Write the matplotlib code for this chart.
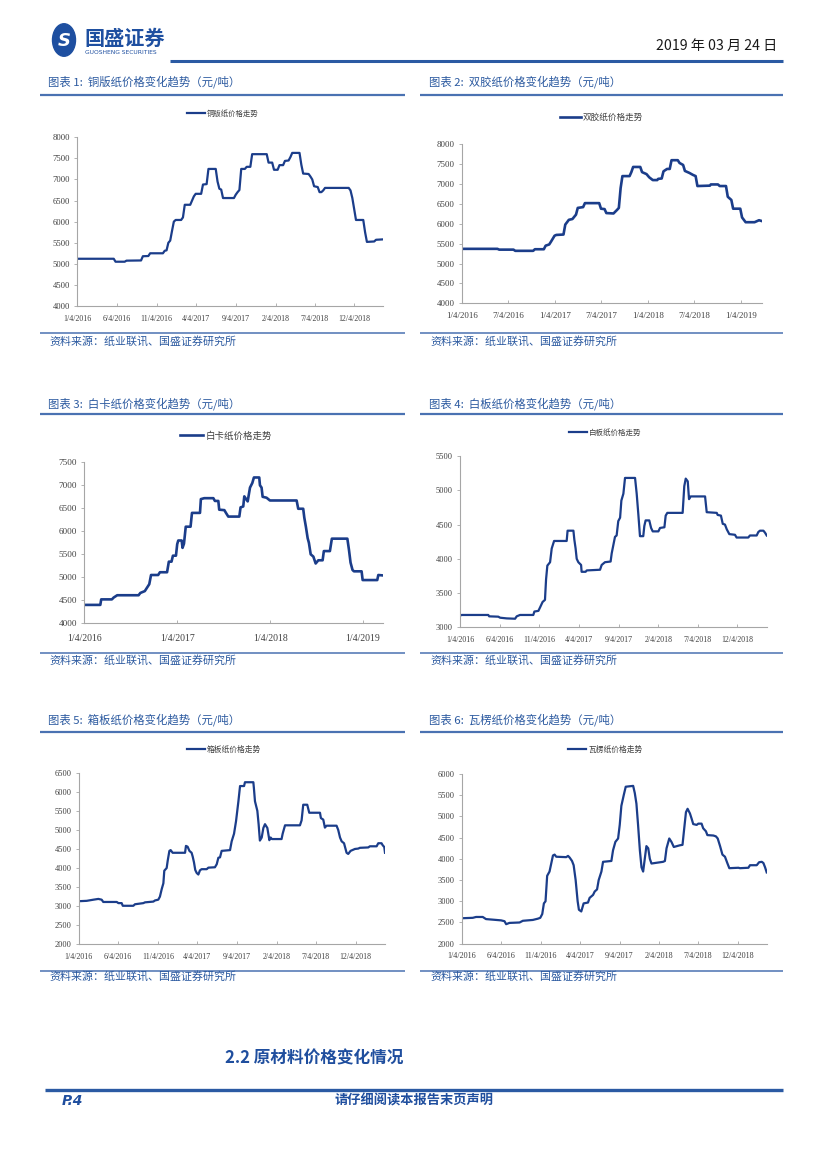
import matplotlib
matplotlib.use('Agg')
import matplotlib.pyplot as plt
from matplotlib.lines import Line2D
from matplotlib.patches import Circle
from matplotlib.ticker import MultipleLocator
import numpy as np
import pandas as pd

plt.rcParams['font.family'] = ['Noto Sans CJK SC', 'DejaVu Sans']

START = '2016-01-04'  # weekly series, x = weeks since start

# ---------------- data ----------------
c1_weeks = [0, 20, 21, 26, 27, 35, 36, 39, 40, 47, 48, 49, 50, 51, 52, 53, 54, 57, 58, 59, 62, 63, 64, 65, 68,
            69, 71, 72, 76, 77, 78, 79, 80, 86, 87, 88, 89, 90, 92, 93, 95, 96, 104, 105, 107, 108, 110, 111, 113,
            114, 116, 117, 118, 122, 123, 124, 127, 128, 129, 130, 132, 133, 134, 135, 136, 149, 150, 151, 152,
            153, 157, 158, 159, 163, 164, 168]
c1_vals = [5120, 5120, 5050, 5050, 5075, 5080, 5180, 5185, 5250, 5250, 5310, 5320, 5500, 5550, 5780, 6000, 6040,
           6040, 6100, 6400, 6400, 6500, 6600, 6660, 6660, 6880, 6890, 7250, 7250, 6950, 6780, 6760, 6560, 6560,
           6640, 6700, 6750, 7250, 7250, 7300, 7300, 7600, 7600, 7400, 7400, 7230, 7230, 7340, 7340, 7440, 7450,
           7530, 7630, 7630, 7350, 7140, 7130, 7070, 7000, 6840, 6820, 6700, 6700, 6740, 6800, 6800, 6740, 6560,
           6300, 6040, 6040, 5750, 5520, 5530, 5570, 5580]

c2_weeks = [0, 20, 21, 29, 30, 40, 41, 46, 47, 49, 50, 52, 53, 57, 58, 60, 62, 64, 65, 68, 69, 77, 78, 80, 81,
            85, 87, 88, 89, 90, 94, 95, 96, 100, 101, 103.5, 105, 107, 109.5, 110, 112, 113, 115, 116.5, 117.5,
            121, 122, 124, 125, 127.5, 129.5, 131, 132, 139, 139.5, 143.5, 144.5, 148, 149, 151, 152, 156, 157,
            159, 164, 165.5, 166.5, 168]
c2_vals = [5370, 5370, 5350, 5350, 5320, 5320, 5360, 5360, 5450, 5480, 5550, 5700, 5720, 5730, 5980, 6100, 6120,
           6230, 6400, 6420, 6520, 6520, 6380, 6370, 6270, 6260, 6350, 6400, 6900, 7200, 7200, 7300, 7430, 7430,
           7300, 7250, 7170, 7100, 7100, 7130, 7140, 7320, 7380, 7380, 7600, 7600, 7530, 7480, 7330, 7280, 7230,
           7200, 6950, 6960, 6990, 6990, 6950, 6950, 6680, 6600, 6380, 6380, 6160, 6040, 6040, 6070, 6090, 6070]

c3_weeks = [0, 9, 9.5, 15.5, 16.5, 18.5, 30.5, 31.5, 34, 35, 36.5, 37.5, 41.5, 42.5, 46.5, 47.5, 49, 49.8, 51.5,
            52.2, 52.8, 54.7, 55.2, 56, 57, 59.7, 60.5, 65, 65.5, 67.4, 72.5, 73.4, 75.3, 75.8, 78.7, 79.6, 80.9,
            87.1, 87.8, 89.3, 89.9, 91.8, 93.1, 94.4, 95.3, 98.3, 98.7, 99.6, 100.2, 102.4, 104.3, 119.3, 120.2,
            123, 123.6, 124.5, 125.5, 126.2, 127.2, 128.7, 130, 131.5, 133.9, 134.6, 138, 139.1, 147.8, 148.7,
            149.6, 150.7, 151.5, 155.8, 156.4, 164.6, 165.2, 168]
c3_vals = [4400, 4400, 4520, 4520, 4560, 4610, 4610, 4660, 4700, 4760, 4850, 5050, 5050, 5110, 5110, 5340, 5340,
           5470, 5470, 5720, 5800, 5800, 5640, 5730, 6100, 6100, 6400, 6400, 6700, 6720, 6720, 6660, 6660, 6470,
           6460, 6400, 6320, 6320, 6520, 6540, 6760, 6650, 6950, 7050, 7170, 7170, 7000, 6950, 6750, 6730, 6670,
           6670, 6490, 6490, 6300, 6100, 5850, 5750, 5500, 5450, 5300, 5370, 5370, 5570, 5570, 5840, 5840, 5600,
           5320, 5160, 5130, 5130, 4940, 4940, 5050, 5040]

c4_weeks = [0, 0.9, 15.5, 16, 21, 22, 25.6, 30.2, 31.1, 32.9, 40.2, 40.8, 43, 43.9, 45.3, 46.6, 47.2, 47.9, 49.4,
            50.3, 51.6, 58.5, 59, 62.2, 62.7, 63.4, 64, 64.9, 66.4, 66.7, 68.9, 69.5, 76.8, 77.7, 79.5, 82.6, 83.2,
            84.1, 85, 85.9, 86.8, 87.8, 88.5, 89.6, 90.5, 96, 96.9, 97.8, 98.7, 100.5, 101.1, 101.8, 103.8, 104.8,
            105.7, 108.8, 109.7, 112.1, 112.8, 113.7, 122.1, 123, 123.8, 124.9, 125.6, 126.5, 134.4, 135.3, 140.8,
            141.3, 143.1, 144.1, 145.3, 146.3, 147.7, 150.8, 151.7, 158.1, 159, 162.7, 163.6, 164.5, 166.4, 167.3,
            168.2]
c4_vals = [3170, 3180, 3180, 3160, 3155, 3140, 3130, 3125, 3160, 3180, 3180, 3230, 3240, 3290, 3370, 3400, 3700,
           3900, 3950, 4150, 4260, 4260, 4410, 4410, 4280, 4150, 4000, 3950, 3910, 3810, 3810, 3830, 3840, 3910,
           3950, 3960, 4080, 4200, 4320, 4340, 4550, 4600, 4850, 4950, 5180, 5180, 4950, 4650, 4330, 4330, 4480,
           4560, 4560, 4450, 4400, 4400, 4450, 4460, 4630, 4670, 4670, 5060, 5170, 5130, 4870, 4910, 4910, 4680,
           4670, 4640, 4630, 4510, 4500, 4430, 4360, 4350, 4310, 4310, 4340, 4340, 4390, 4410, 4410, 4380, 4340]

c5_weeks = [0, 4.4, 8.1, 10.8, 12.6, 13.5, 20.9, 21.8, 23.6, 24.2, 30, 30.9, 35.5, 36.4, 41, 41.9, 43.7, 44.6,
            45.6, 46.5, 47, 48.3, 48.9, 49.8, 50.5, 51.6, 58.4, 58.9, 59.8, 60.8, 62, 62.6, 63.3, 64, 64.8, 65.7,
            66.6, 67.5, 70.3, 71.2, 74.8, 75.8, 76.7, 77.6, 78.5, 83.1, 84, 85.3, 86.4, 87.7, 88.6, 90.8, 91.3,
            95.9, 96.2, 96.8, 98.1, 98.8, 99.5, 100.5, 101.4, 102.3, 103.6, 104.7, 105.4, 106.1, 111.4, 112, 113.3,
            121.5, 122.4, 123.3, 125.5, 126.6, 132.5, 133, 134.3, 135.2, 136.1, 141.6, 142.5, 143.5, 144.4, 145.7,
            147.1, 148, 149.3, 151.7, 153.5, 154.4, 159, 159.9, 163.6, 164.5, 166.3, 166.9, 167.8, 168.2]
c5_vals = [3130, 3140, 3170, 3190, 3170, 3110, 3110, 3080, 3080, 3010, 3010, 3050, 3080, 3100, 3120, 3150, 3170,
           3250, 3450, 3600, 3930, 4000, 4200, 4450, 4470, 4400, 4400, 4580, 4560, 4450, 4400, 4300, 4150, 3950,
           3870, 3830, 3940, 3970, 3970, 4010, 4020, 4100, 4270, 4280, 4450, 4470, 4700, 4900, 5230, 5750, 6150,
           6150, 6250, 6250, 6100, 5750, 5500, 5150, 4720, 4800, 5050, 5150, 5050, 4730, 4800, 4760, 4760, 4900,
           5120, 5120, 5250, 5660, 5660, 5450, 5450, 5310, 5270, 5060, 5110, 5110, 5000, 4800, 4700, 4650, 4400,
           4370, 4450, 4500, 4510, 4530, 4540, 4570, 4570, 4650, 4650, 4600, 4550, 4400]

c6_weeks = [0, 6.1, 7.9, 11.6, 13.4, 19, 21.7, 23.6, 24.5, 26.3, 31.9, 33.7, 39.2, 42, 43.3, 44.4, 45.3, 46.2,
            47.1, 48.4, 49.4, 50.3, 51.2, 52.1, 57.6, 58.6, 59.5, 60.8, 61.7, 62.8, 63.9, 64.6, 65.9, 67.2, 69.6,
            70.5, 72.4, 73.3, 74.6, 75.5, 77, 77.9, 82.5, 83.4, 84.7, 86.2, 87.1, 88, 89.3, 90.4, 94.5, 95.4, 96.3,
            97.2, 98.2, 99.1, 100, 100.9, 101.8, 102.8, 103.7, 104.6, 111, 112, 112.9, 114.4, 115.6, 116.9, 120.3,
            121.7, 122.6, 123.6, 124.5, 125.8, 126.7, 127.6, 129.5, 130.4, 132.2, 133.1, 134.6, 135.4, 138.7,
            140.1, 141.1, 142.4, 143.7, 145.1, 146.4, 147.5, 152.5, 153.4, 158, 158.9, 162.6, 163.9, 165.4, 166.3,
            167.2, 168.1]
c6_vals = [2600, 2610, 2630, 2630, 2580, 2560, 2550, 2530, 2460, 2490, 2500, 2540, 2560, 2590, 2610, 2700, 2950,
           3000, 3600, 3700, 3900, 4080, 4100, 4050, 4040, 4070, 4030, 3950, 3850, 3500, 3000, 2800, 2760, 2950,
           2970, 3080, 3150, 3230, 3280, 3500, 3700, 3930, 3950, 4200, 4400, 4480, 4800, 5250, 5500, 5700, 5720,
           5550, 5300, 4800, 4200, 3800, 3700, 4000, 4300, 4250, 4000, 3890, 3930, 3950, 4250, 4480, 4400, 4280,
           4320, 4330, 4700, 5100, 5180, 5070, 4950, 4820, 4800, 4830, 4830, 4720, 4650, 4560, 4550, 4530, 4480,
           4300, 4100, 4050, 3900, 3780, 3790, 3780, 3790, 3850, 3850, 3920, 3930, 3900, 3800, 3680]

ticks_5m = ['1/4/2016', '6/4/2016', '11/4/2016', '4/4/2017', '9/4/2017', '2/4/2018', '7/4/2018', '12/4/2018']
ticks_6m = ['1/4/2016', '7/4/2016', '1/4/2017', '7/4/2017', '1/4/2018', '7/4/2018', '1/4/2019']
ticks_12m = ['1/4/2016', '1/4/2017', '1/4/2018', '1/4/2019']

titles = ['图表 1:  铜版纸价格变化趋势（元/吨）', '图表 2:  双胶纸价格变化趋势（元/吨）',
          '图表 3:  白卡纸价格变化趋势（元/吨）', '图表 4:  白板纸价格变化趋势（元/吨）',
          '图表 5:  箱板纸价格变化趋势（元/吨）', '图表 6:  瓦楞纸价格变化趋势（元/吨）']
legends = ['铜版纸价格走势', '双胶纸价格走势', '白卡纸价格走势', '白板纸价格走势', '箱板纸价格走势', '瓦楞纸价格走势']
source = '资料来源：纸业联讯、国盛证券研究所'

# ---------------- figure ----------------
W, H = 827, 1169
fig = plt.figure(figsize=(W / 100, H / 100), dpi=100)
fig.patch.set_facecolor('white')


def fx(x):
    return x / W


def fy(y):
    return 1 - y / H


TXT_BLUE = '#2C5AA0'
LINE_C = '#1B3D8A'
SPINE_C = '#A6A6A6'
TICK_TXT = '#404040'


def hline(x0, x1, y, color, lw):
    fig.add_artist(Line2D([fx(x0), fx(x1)], [fy(y), fy(y)], color=color, lw=lw,
                          transform=fig.transFigure, solid_capstyle='butt'))


def add_chart(box, weeks, vals, ylim, xticks, label, leg_xy, leg_fs, xfs, yfs, lw, xpad):
    l, r, t, b = box
    ax = fig.add_axes([fx(l), fy(b), (r - l) / W, (b - t) / H])
    dates = pd.Timestamp(START) + pd.to_timedelta(np.array(weeks) * 7, unit='D')
    ax.plot(dates, vals, color=LINE_C, lw=lw, label=label)
    ax.set_xlim(dates[0], dates[-1])
    ax.set_ylim(*ylim)
    ax.yaxis.set_major_locator(MultipleLocator(500))
    tick_dates = pd.to_datetime(xticks, format='%m/%d/%Y')
    ax.set_xticks(tick_dates)
    ax.set_xticklabels(xticks)
    for s in ['top', 'right']:
        ax.spines[s].set_visible(False)
    for s in ['left', 'bottom']:
        ax.spines[s].set_color(SPINE_C)
        ax.spines[s].set_linewidth(0.8)
    ax.tick_params(axis='x', direction='in', length=2.5, width=0.6, color=SPINE_C, pad=xpad,
                   labelsize=xfs, labelcolor=TICK_TXT)
    ax.tick_params(axis='y', direction='out', length=2.5, width=0.6, color=SPINE_C, pad=2.5,
                   labelsize=yfs, labelcolor=TICK_TXT)
    for lab in ax.get_xticklabels() + ax.get_yticklabels():
        lab.set_family('Liberation Serif')
    ax.legend(loc='center', bbox_to_anchor=(fx(leg_xy[0]), fy(leg_xy[1])), bbox_transform=fig.transFigure,
              frameon=False, fontsize=leg_fs, handlelength=2.4, handletextpad=0.25, borderpad=0,
              labelcolor=TICK_TXT)
    ax.patch.set_alpha(0)
    return ax


add_chart((77.3, 383.3, 137.3, 306), c1_weeks, c1_vals, (4000, 8000), ticks_5m, legends[0],
          (222.5, 114), 5.3, 5.7, 6.2, 1.6, 6.5)
add_chart((461.7, 761.7, 144.3, 303.3), c2_weeks, c2_vals, (4000, 8000), ticks_6m, legends[1],
          (601.7, 117.7), 6.2, 6.4, 6.4, 1.9, 6.5)
add_chart((84.3, 383.3, 462.3, 623.3), c3_weeks, c3_vals, (4000, 7500), ticks_12m, legends[2],
          (226, 436), 6.8, 7.0, 6.6, 1.9, 7.5)
add_chart((460, 766.7, 456, 627.3), c4_weeks, c4_vals, (3000, 5500), ticks_5m, legends[3],
          (605, 432.7), 5.4, 5.7, 6.0, 1.6, 6.0)
add_chart((78.7, 385, 772.7, 944.3), c5_weeks, c5_vals, (2000, 6500), ticks_5m, legends[4],
          (224, 750), 5.6, 5.7, 6.0, 1.6, 6.0)
add_chart((461.7, 766.7, 774, 943.7), c6_weeks, c6_vals, (2000, 6000), ticks_5m, legends[5],
          (605, 750), 5.6, 5.9, 6.0, 1.6, 6.0)

# ---------------- titles / sources ----------------
title_rows = [(82, 95, 333.3, 341.5), (403.3, 414.3, 653.3, 660), (720, 731.7, 970.7, 976.5)]
for i, (ty, ly, sy, sty) in enumerate(title_rows):
    for j, (x0, x1, tx) in enumerate([(40, 405, 48), (420, 783, 429)]):
        fig.text(fx(tx), fy(ty), titles[2 * i + j], fontsize=8.2, color=TXT_BLUE, ha='left', va='center')
        hline(x0, x1, ly, '#4A72B2', 1.6)
        hline(x0, x1, sy, '#4A72B2', 1.1)
        fig.text(fx(tx + 1), fy(sty), source, fontsize=7.9, color=TXT_BLUE, ha='left', va='center')

# ---------------- header ----------------
fig.add_artist(Circle((fx(64), fy(40)), 11.5 / W, transform=fig.transFigure, color='#1E4FA0', zorder=3))
fig.text(fx(64), fy(40.5), 'S', fontsize=13, fontweight='bold', color='white', ha='center', va='center',
         family='DejaVu Sans', style='italic', zorder=4)
fig.text(fx(84), fy(38.5), '国盛证券', fontsize=14.5, fontweight='bold', color='#1E4FA0', ha='left', va='center')
fig.text(fx(85), fy(53), 'GUOSHENG SECURITIES', fontsize=4.3, color='#1E4FA0', ha='left', va='center',
         family='DejaVu Sans')
fig.text(fx(777), fy(46), '2019 年 03 月 24 日', fontsize=10.2, color='#1a1a1a', ha='right', va='center')
hline(170, 783, 60.5, '#2B5AA3', 2.2)

# ---------------- footer ----------------
fig.text(fx(225), fy(1058), '2.2 原材料价格变化情况', fontsize=12, fontweight='bold', color='#1F4E9E',
         ha='left', va='center')
hline(45, 783, 1090, '#2B5AA3', 2.4)
fig.text(fx(62), fy(1101), 'P.4', fontsize=10, fontweight='bold', style='italic', color='#1F4E9E',
         ha='left', va='center', family='DejaVu Sans')
fig.text(fx(414), fy(1101), '请仔细阅读本报告末页声明', fontsize=9.5, fontweight='bold', color='#1F4E9E',
         ha='center', va='center')

fig.savefig('out.png', dpi=100, facecolor='white')
